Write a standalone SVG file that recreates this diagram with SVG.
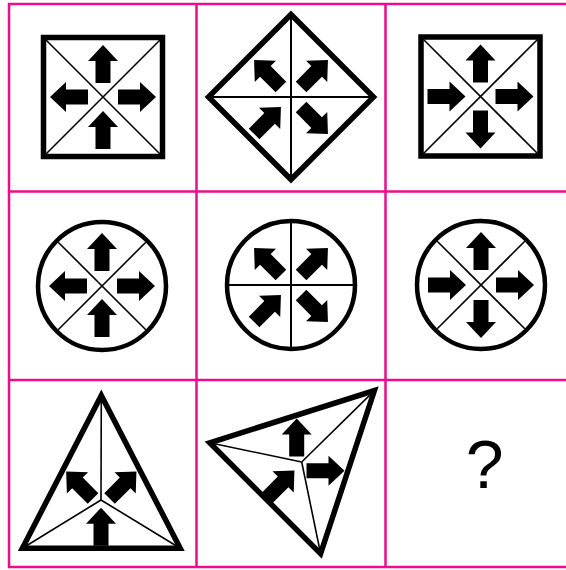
<svg xmlns="http://www.w3.org/2000/svg" xmlns:xlink="http://www.w3.org/1999/xlink" width="566" height="570" viewBox="0 0 566 570">
<style>
.grid{stroke:#ec0c8c;stroke-width:2.5;fill:none}
.thick{fill:none;stroke:#000;stroke-width:5.5;stroke-linejoin:miter;stroke-miterlimit:10}
.circ{fill:none;stroke:#000;stroke-width:4.5}
.thin{stroke:#000;stroke-width:1.6;fill:none}
.arr{fill:#000}
.q{font-family:"Liberation Sans",Arial,sans-serif;font-size:68px;fill:#000}
</style>
<defs>
<path id="a" d="M0,-19 L15,-3 L7.5,-3 L7.5,19 L-7.5,19 L-7.5,-3 L-15,-3 Z"/>
</defs>
<rect width="566" height="570" fill="#fff"/>
<g id="grid" class="grid">
<line x1="8" y1="4" x2="566" y2="4"/>
<line x1="8" y1="191.5" x2="566" y2="191.5"/>
<line x1="8" y1="380" x2="566" y2="380"/>
<line x1="8" y1="567" x2="566" y2="567"/>
<line x1="9" y1="3" x2="9" y2="568"/>
<line x1="196.5" y1="3" x2="196.5" y2="568"/>
<line x1="385.5" y1="3" x2="385.5" y2="568"/>
</g>
<g id="cell1">
<rect class="thick" x="43.5" y="37.5" width="119" height="119"/>
<line class="thin" x1="43.5" y1="37.5" x2="162.5" y2="156.5"/>
<line class="thin" x1="162.5" y1="37.5" x2="43.5" y2="156.5"/>
<use href="#a" class="arr" transform="translate(103,64)"/>
<use href="#a" class="arr" transform="translate(103,130)"/>
<use href="#a" class="arr" transform="translate(69,97) rotate(-90)"/>
<use href="#a" class="arr" transform="translate(137,97) rotate(90)"/>
</g>
<g id="cell2">
<polygon class="thick" points="291,14.5 373.5,97 291,179.5 208.5,97"/>
<line class="thin" x1="208.5" y1="97" x2="373.5" y2="97" style="stroke-width:2"/>
<line class="thin" x1="291" y1="14.5" x2="291" y2="179.5" style="stroke-width:2"/>
<use href="#a" class="arr" transform="translate(267.5,73.5) rotate(-45)"/>
<use href="#a" class="arr" transform="translate(314.5,73.5) rotate(45)"/>
<use href="#a" class="arr" transform="translate(267.5,120.5) rotate(45)"/>
<use href="#a" class="arr" transform="translate(314.5,120.5) rotate(135)"/>
</g>
<g id="cell3">
<rect class="thick" x="421" y="37" width="119" height="119"/>
<line class="thin" x1="421" y1="37" x2="540" y2="156"/>
<line class="thin" x1="540" y1="37" x2="421" y2="156"/>
<use href="#a" class="arr" transform="translate(480.5,63.5)"/>
<use href="#a" class="arr" transform="translate(480.5,129.5) rotate(180)"/>
<use href="#a" class="arr" transform="translate(446.5,96.5) rotate(90)"/>
<use href="#a" class="arr" transform="translate(514.5,96.5) rotate(90)"/>
</g>
<g id="cell4">
<circle class="circ" cx="102" cy="286" r="64"/>
<line class="thin" x1="58.2" y1="242.2" x2="145.8" y2="329.8"/>
<line class="thin" x1="145.8" y1="242.2" x2="58.2" y2="329.8"/>
<use href="#a" class="arr" transform="translate(102,252)"/>
<use href="#a" class="arr" transform="translate(102,318)"/>
<use href="#a" class="arr" transform="translate(68,286) rotate(-90)"/>
<use href="#a" class="arr" transform="translate(136,286) rotate(90)"/>
</g>
<g id="cell5">
<circle class="circ" cx="291" cy="285" r="64"/>
<line class="thin" x1="227" y1="285" x2="355" y2="285" style="stroke-width:2"/>
<line class="thin" x1="291" y1="221" x2="291" y2="349" style="stroke-width:2"/>
<use href="#a" class="arr" transform="translate(267.5,261.5) rotate(-45)"/>
<use href="#a" class="arr" transform="translate(314.5,261.5) rotate(45)"/>
<use href="#a" class="arr" transform="translate(267.5,308.5) rotate(45)"/>
<use href="#a" class="arr" transform="translate(314.5,308.5) rotate(135)"/>
</g>
<g id="cell6">
<circle class="circ" cx="481" cy="285" r="64"/>
<line class="thin" x1="437.2" y1="241.2" x2="524.8" y2="328.8"/>
<line class="thin" x1="524.8" y1="241.2" x2="437.2" y2="328.8"/>
<use href="#a" class="arr" transform="translate(481,251)"/>
<use href="#a" class="arr" transform="translate(481,319) rotate(180)"/>
<use href="#a" class="arr" transform="translate(447,285) rotate(90)"/>
<use href="#a" class="arr" transform="translate(515,285) rotate(90)"/>
</g>
<g id="cell7">
<polygon class="thick" points="101.3,395.4 180.2,548.2 22.4,548.2"/>
<line class="thin" x1="101.3" y1="395.4" x2="101" y2="500"/>
<line class="thin" x1="22.4" y1="548.2" x2="101" y2="500"/>
<line class="thin" x1="180.2" y1="548.2" x2="101" y2="500"/>
<use href="#a" class="arr" transform="translate(79.6,485) rotate(-45)"/>
<use href="#a" class="arr" transform="translate(123,485) rotate(45)"/>
<use href="#a" class="arr" transform="translate(101,526.7)"/>
</g>
<g id="cell8">
<polygon class="thick" points="209.7,442.8 374.4,390.6 320.6,553.6"/>
<line class="thin" x1="209.7" y1="442.8" x2="301.7" y2="462"/>
<line class="thin" x1="374.4" y1="390.6" x2="301.7" y2="462"/>
<line class="thin" x1="320.6" y1="553.6" x2="301.7" y2="462"/>
<use href="#a" class="arr" transform="translate(296.7,437.5)"/>
<use href="#a" class="arr" transform="translate(325.5,470.7) rotate(90)"/>
<use href="#a" class="arr" transform="translate(281,484) rotate(45)"/>
</g>
<g id="cell9">
<text class="q" x="484.7" y="488" text-anchor="middle">?</text>
</g>
</svg>
